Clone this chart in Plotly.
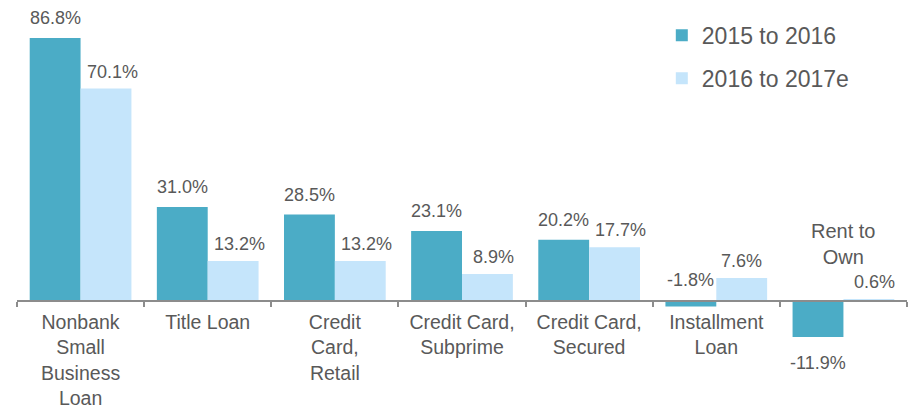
import plotly.graph_objects as go

# data
categories = ["Nonbank Small Business Loan", "Title Loan", "Credit Card, Retail",
              "Credit Card, Subprime", "Credit Card, Secured", "Installment Loan", "Rent to Own"]
tick_labels = ["Nonbank<br>Small<br>Business<br>Loan", "Title Loan", "Credit<br>Card,<br>Retail",
               "Credit Card,<br>Subprime", "Credit Card,<br>Secured", "Installment<br>Loan", " "]
growth_2015_2016 = [86.8, 31.0, 28.5, 23.1, 20.2, -1.8, -11.9]
growth_2016_2017e = [70.1, 13.2, 13.2, 8.9, 17.7, 7.6, 0.6]
series_names = ["2015 to 2016", "2016 to 2017e"]

colors = ["#4BACC6", "#C5E5FB"]
text_color = "#595959"
font_family = "Liberation Sans, Arial, sans-serif"

y_min, y_max = -33.0, 96.0

fig = go.Figure()
for i, (name, vals) in enumerate(zip(series_names, [growth_2015_2016, growth_2016_2017e])):
    fig.add_trace(go.Bar(
        x=tick_labels, y=vals, name=name,
        marker=dict(color=colors[i], line=dict(width=0)),
        legendgroup=f"g{i}",
        hoverinfo="skip",
    ))

# value labels
annotations = []
offsets = [-0.2, 0.2]
for s, vals in enumerate([growth_2015_2016, growth_2016_2017e]):
    for k, v in enumerate(vals):
        if v >= 0:
            ann = dict(y=v, yanchor="bottom", yshift=8 if s == 0 else 5)
        elif v > -5:
            ann = dict(y=0, yanchor="bottom", yshift=9)
        else:
            ann = dict(y=v, yanchor="top", yshift=-14)
        ann.update(x=k + offsets[s], xref="x", yref="y", xanchor="center",
                   text=f"{v:.1f}%", showarrow=False,
                   xshift=6 if (s == 1 and k not in (5,)) else 0,
                   font=dict(size=18, color=text_color, family=font_family))
        annotations.append(ann)

# Rent to Own label above the bars
annotations.append(dict(x=6, y=18.8, xref="x", yref="y", text="Rent to<br>Own",
                        showarrow=False, xanchor="center", yanchor="middle",
                        font=dict(size=20, color=text_color, family=font_family)))

fig.update_layout(
    width=913, height=411,
    margin=dict(l=17, r=6, t=10, b=10),
    plot_bgcolor="white", paper_bgcolor="white",
    barmode="group", bargap=0.2, bargroupgap=0,
    font=dict(family=font_family, color=text_color),
    xaxis=dict(
        type="category", anchor="free", position=(0 - y_min) / (y_max - y_min),
        automargin=False,
        showline=True, linecolor="#8c8c8c", linewidth=1.5,
        ticks="outside", ticklen=5, tickcolor="#8c8c8c", tickwidth=1.5,
        tickson="boundaries", showgrid=False, ticklabelstandoff=4,
        tickfont=dict(size=19.5, color=text_color, family=font_family),
    ),
    yaxis=dict(range=[y_min, y_max], visible=False, showgrid=False, zeroline=False,
               automargin=False),
    legend=dict(
        x=0.7245, y=0.99, xanchor="left", yanchor="top",
        font=dict(size=23, color=text_color, family=font_family),
        tracegroupgap=10, bgcolor="rgba(0,0,0,0)",
    ),
    annotations=annotations,
    showlegend=True,
)

fig.write_html("out.html", config={"displayModeBar": False},
               post_script="document.body.style.margin='0px';")
